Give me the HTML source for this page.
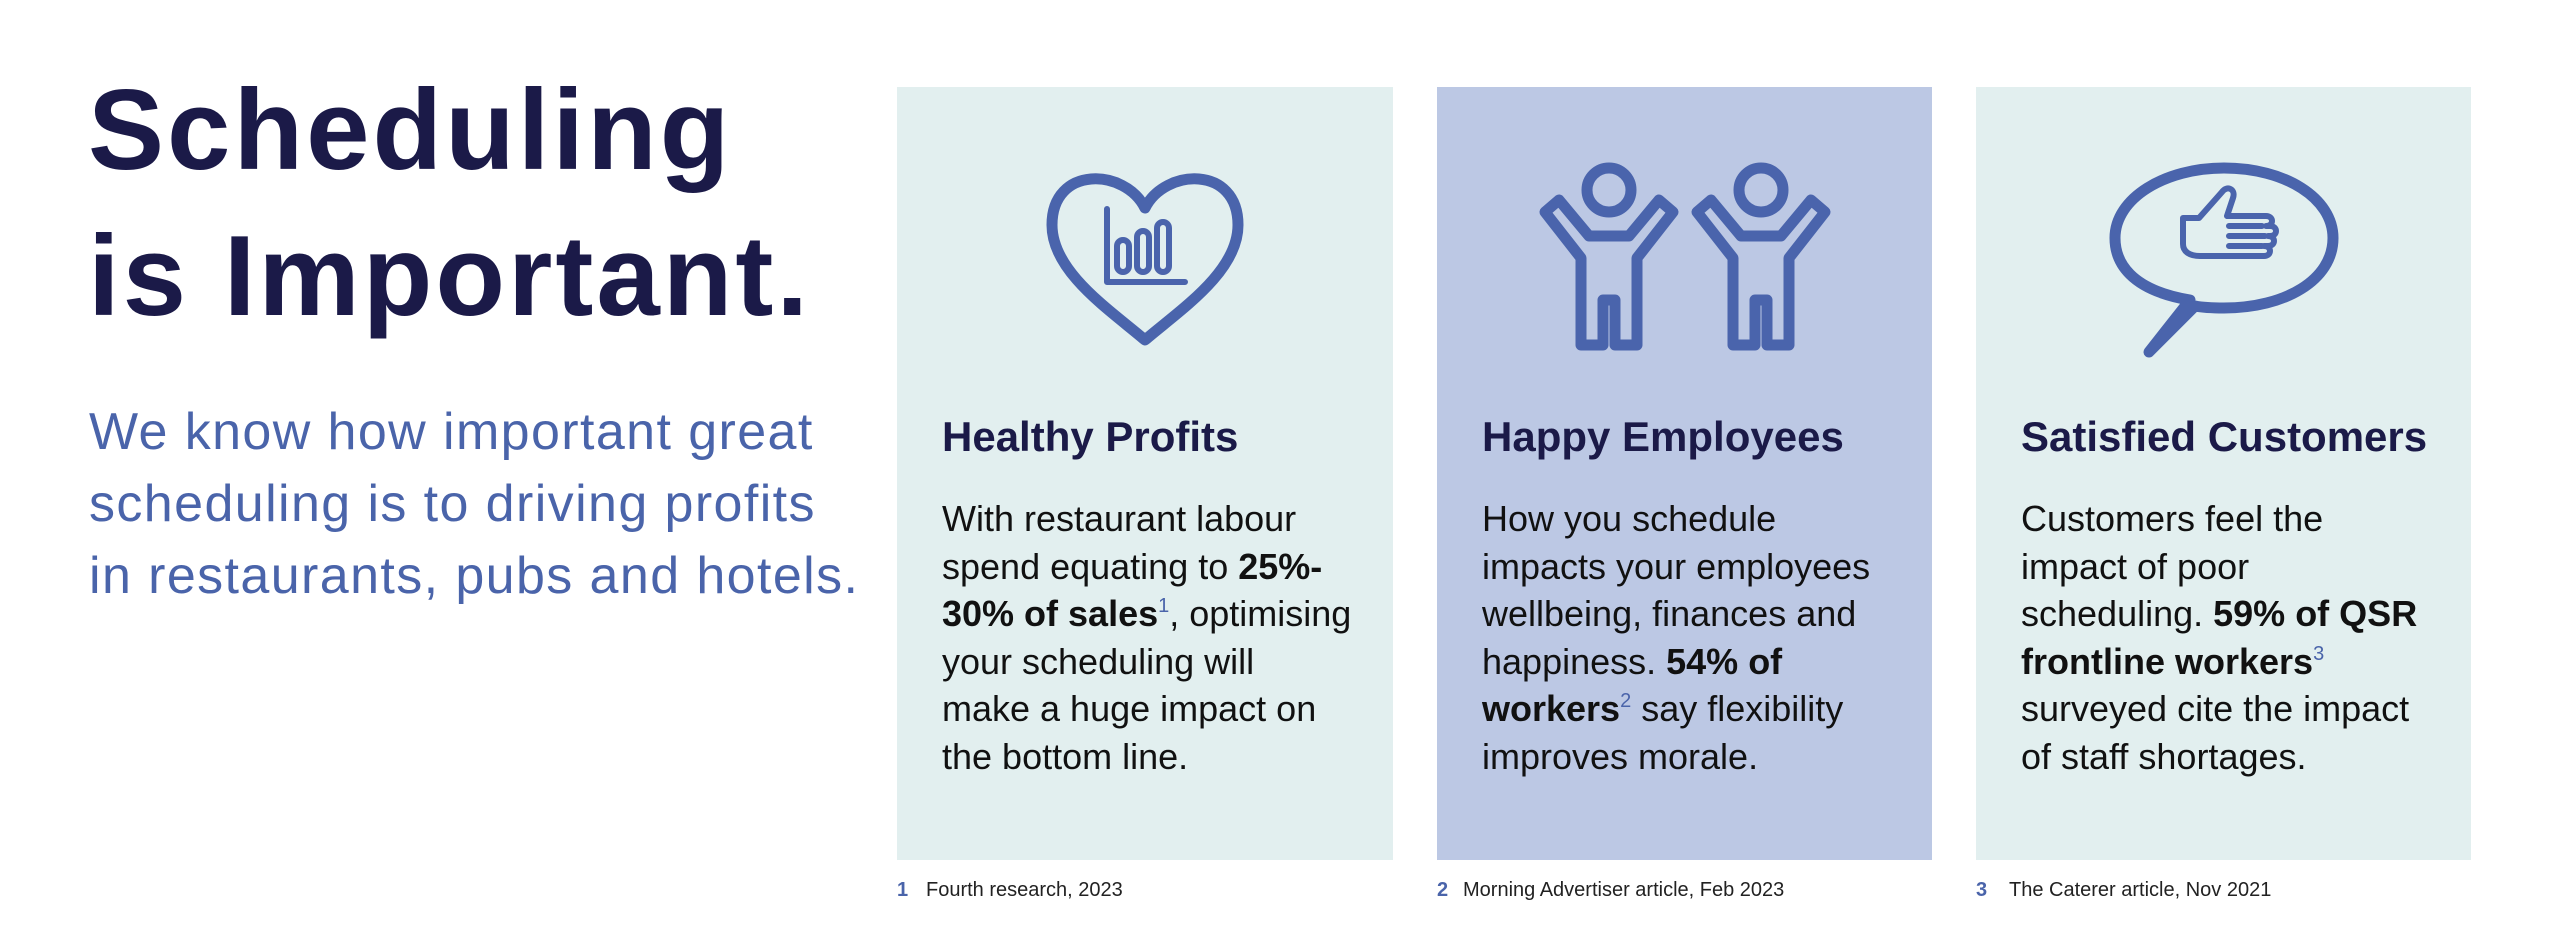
<!DOCTYPE html>
<html><head><meta charset="utf-8"><style>
body{margin:0;width:2560px;height:949px;background:#fff;position:relative;overflow:hidden;font-family:"Liberation Sans",sans-serif}
.a{position:absolute;white-space:nowrap}
.title{left:88px;top:58px;font-size:114px;line-height:146px;font-weight:bold;color:#1b1a48;letter-spacing:3px}
.sub{left:89px;top:396px;font-size:52px;line-height:72px;color:#4a64aa;letter-spacing:1.4px}
.panel{position:absolute;top:87px;height:773px}
.h{font-size:42px;font-weight:bold;color:#1b1a48;top:412px;line-height:50px}
.b{font-size:36px;line-height:47.5px;color:#111;top:495px}
.b b{color:#111}
sup{color:#4a64aa;font-size:20px;vertical-align:14px;line-height:0}
.fn{top:878px;font-size:20px;color:#222;line-height:24px}
.fn b{color:#4a64aa}
</style></head><body>
<div class="a title">Scheduling<br>is Important.</div>
<div class="a sub">We know how important great<br>scheduling is to driving profits<br>in restaurants, pubs and hotels.</div>
<div class="panel" style="left:897px;width:496px;background:#e2efef"></div>
<div class="panel" style="left:1437px;width:495px;background:#bcc8e4"></div>
<div class="panel" style="left:1976px;width:495px;background:#e2efef"></div>
<svg class="a" style="left:0;top:0" width="2560" height="949" fill="none" stroke="#4a64ac" stroke-linejoin="round" stroke-linecap="round">
<path d="M1145 208 C1125 168,1052 165,1052 225 C1052 272,1110 310,1145 340 C1180 310,1238 272,1238 225 C1238 165,1165 168,1145 208 Z" stroke-width="11"/>
<g stroke-width="6"><path d="M1107 209 L1107 282 L1185 282"/><rect x="1117" y="240" width="12" height="32" rx="6"/><rect x="1137" y="231" width="12" height="41" rx="6"/><rect x="1157" y="222" width="12" height="50" rx="6"/></g>
<g stroke-width="11">
<circle cx="1609" cy="190" r="22"/>
<polygon points="1589,236 1559,200 1545,212 1581,258 1581,345 1603,345 1603,300 1615,300 1615,345 1637,345 1637,258 1673,212 1659,200 1629,236"/>
<circle cx="1761" cy="190" r="22"/>
<polygon points="1741,236 1711,200 1697,212 1733,258 1733,345 1755,345 1755,300 1767,300 1767,345 1789,345 1789,258 1825,212 1811,200 1781,236"/>
<path d="M2190 300 C2130 290,2115 262,2115 238 C2115 198,2165 168,2224 168 C2285 168,2333 198,2333 238 C2333 280,2285 308,2224 308 C2210 308,2200 307,2195 306 L2149 352 Z"/>
</g>
<g stroke-width="6">
<path d="M2183 218 L2199 218 L2222 192 C2227 185,2236 189,2233 198 L2227 216 L2266 216 C2274 216,2274 226,2266 226 L2270 226 C2278 226,2278 236,2270 236 L2268 236 C2276 236,2276 246,2268 246 L2264 246 C2272 246,2272 256,2264 256 L2200 256 C2190 256,2183 252,2183 244 Z"/>
<path d="M2229 226 L2262 226 M2229 236 L2265 236 M2229 246 L2262 246"/>
</g>
</svg>
<div class="a h" style="left:942px">Healthy Profits</div>
<div class="a h" style="left:1482px">Happy Employees</div>
<div class="a h" style="left:2021px">Satisfied Customers</div>
<div class="a b" style="left:942px">With restaurant labour<br>spend equating to <b>25%-<br>30% of sales</b><sup>1</sup>, optimising<br>your scheduling will<br>make a huge impact on<br>the bottom line.</div>
<div class="a b" style="left:1482px">How you schedule<br>impacts your employees<br>wellbeing, finances and<br>happiness. <b>54% of<br>workers</b><sup>2</sup> say flexibility<br>improves morale.</div>
<div class="a b" style="left:2021px">Customers feel the<br>impact of poor<br>scheduling. <b>59% of QSR<br>frontline workers</b><sup>3</sup><br>surveyed cite the impact<br>of staff shortages.</div>
<div class="a fn" style="left:897px"><b>1</b></div><div class="a fn" style="left:926px">Fourth research, 2023</div>
<div class="a fn" style="left:1437px"><b>2</b></div><div class="a fn" style="left:1463px">Morning Advertiser article, Feb 2023</div>
<div class="a fn" style="left:1976px"><b>3</b></div><div class="a fn" style="left:2009px">The Caterer article, Nov 2021</div>
</body></html>
